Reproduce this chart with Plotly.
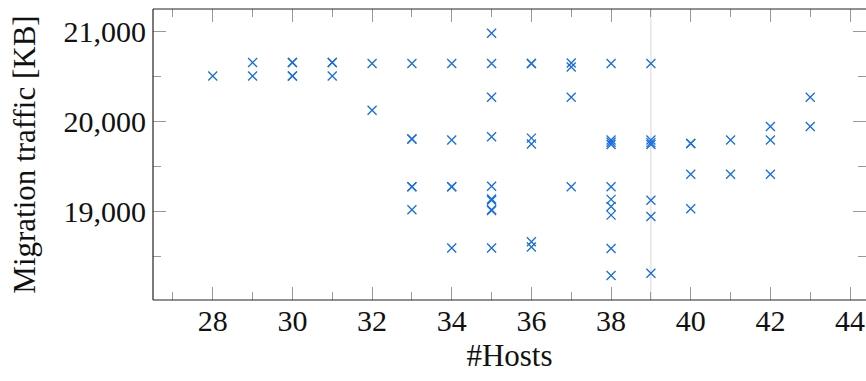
import plotly.graph_objects as go

# Number of hosts per run and the migration traffic measured in each run (KB)
hosts_28 = [20510]
hosts_29 = [20660, 20510]
hosts_30 = [20660, 20660, 20510, 20510]
hosts_31 = [20660, 20660, 20510]
hosts_32 = [20650, 20130]
hosts_33 = [20650, 19810, 19810, 19280, 19280, 19025]
hosts_34 = [20650, 19800, 19280, 19280, 18600]
hosts_35 = [20985, 20650, 20275, 19835, 19285, 19145, 19130, 19025, 19015, 18600]
hosts_36 = [20650, 20650, 19820, 19755, 18670, 18610]
hosts_37 = [20655, 20610, 20275, 19280]
hosts_38 = [20650, 19800, 19775, 19750, 19280, 19140, 19060, 18965, 18595, 18295]
hosts_39 = [20650, 19800, 19770, 19750, 19130, 18950, 18320]
hosts_40 = [19760, 19760, 19420, 19035]
hosts_41 = [19800, 19420]
hosts_42 = [19950, 19800, 19420]
hosts_43 = [20275, 19950]

runs = {
    28: hosts_28, 29: hosts_29, 30: hosts_30, 31: hosts_31,
    32: hosts_32, 33: hosts_33, 34: hosts_34, 35: hosts_35,
    36: hosts_36, 37: hosts_37, 38: hosts_38, 39: hosts_39,
    40: hosts_40, 41: hosts_41, 42: hosts_42, 43: hosts_43,
}
marker_host = 39

x_vals, y_vals = [], []
for n, traffic in runs.items():
    x_vals += [n] * len(traffic)
    y_vals += traffic

FONT = "'Liberation Serif', 'Times New Roman', serif"
BLUE = "rgb(22,110,226)"
FRAME = "#222"

fig = go.Figure()
fig.add_trace(go.Scatter(
    x=x_vals, y=y_vals, mode="markers",
    marker=dict(symbol="x-thin", size=9, color=BLUE,
                line=dict(color=BLUE, width=1.3)),
    showlegend=False, cliponaxis=False,
))

# reference line at the highlighted host count
fig.add_shape(type="line", xref="x", yref="paper",
              x0=marker_host, x1=marker_host, y0=0, y1=1,
              line=dict(color="rgb(225,210,210)", width=1), layer="below")

# frame: left, top and bottom edges (right edge lies beyond the page)
for x0, y0, x1, y1 in [(0, 0, 0, 1), (0, 1, 1.01, 1), (0, 0, 1.01, 0)]:
    fig.add_shape(type="line", xref="paper", yref="paper",
                  x0=x0, y0=y0, x1=x1, y1=y1,
                  line=dict(color=FRAME, width=1.2), layer="above")

axis_common = dict(
    showgrid=False, zeroline=False,
    showline=False, mirror="ticks",
    ticks="inside", tickcolor="#999", tickwidth=1, ticklen=13,
    tickfont=dict(family=FONT, size=30, color="#111"),
)

fig.update_xaxes(
    range=[26.5, 44.4], tickmode="linear", tick0=28, dtick=2,
    minor=dict(ticks="inside", dtick=1, tick0=27, ticklen=8,
               tickcolor="#999", tickwidth=1),
    title=dict(text="#Hosts", font=dict(family=FONT, size=31, color="#111"),
               standoff=8),
    ticklabelstandoff=0,
    **axis_common,
)
fig.update_yaxes(
    range=[18022, 21255], tickmode="linear", tick0=19000, dtick=1000,
    tickformat=",d",
    minor=dict(ticks="inside", dtick=500, tick0=18500, ticklen=8,
               tickcolor="#999", tickwidth=1),
    title=dict(text="Migration traffic [KB]",
               font=dict(family=FONT, size=31, color="#111"), standoff=18),
    ticklabelstandoff=6,
    **axis_common,
)

fig.update_layout(
    width=866, height=381,
    margin=dict(l=153, r=0, t=9, b=81),
    paper_bgcolor="white", plot_bgcolor="white",
)

fig.write_html("out.html")
